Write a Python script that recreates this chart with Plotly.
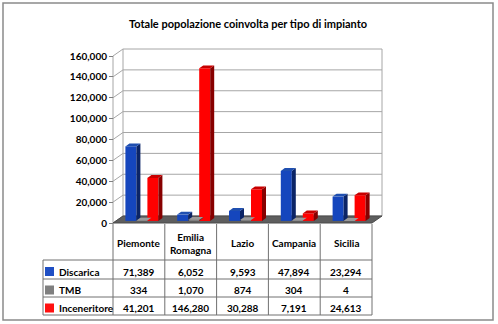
import plotly.graph_objects as go

# ---- data -------------------------------------------------------------
regions = ["Piemonte", "Emilia Romagna", "Lazio", "Campania", "Sicilia"]
header_labels = ["Piemonte", "Emilia<br>Romagna", "Lazio", "Campania", "Sicilia"]
series_names = ["Discarica", "TMB", "Inceneritore"]
discarica = [71389, 6052, 9593, 47894, 23294]
tmb = [334, 1070, 874, 304, 4]
inceneritore = [41201, 146280, 30288, 7191, 24613]
y_ticks = [0, 20000, 40000, 60000, 80000, 100000, 120000, 140000, 160000]
title_text = "Totale popolazione coinvolta per tipo di impianto"

series_values = [discarica, tmb, inceneritore]
front_colors = ["#1546bd", "#7f7f7f", "#ff0000"]
side_colors = ["#0b2466", "#474747", "#870000"]
top_colors = ["#1f4fb0", "#9a9a9a", "#c80000"]
key_colors = ["#1f4fc4", "#7f7f7f", "#ff1010"]

# ---- geometry (pixel layout of the page) -----------------------------
W, H = 498, 324
X0_PX = 113.0          # left edge of the front plane
PX_PER_X = 51.8        # one category slot
Y0_PX = 223.0          # zero line on the front plane
PX_PER_Y = 167.0 / 160000

def xu(px):            # pixel column -> x data units
    return (px - X0_PX) / PX_PER_X - 0.5

def yu(px):            # pixel row -> y data units
    return (Y0_PX - px) / PX_PER_Y

def xp(px):
    return px / W

def yp(px):
    return 1 - px / H

# full depth of the 3-D box, and the bars' place in it
DX, DY = 10 / PX_PER_X, 7 / PX_PER_Y
BAR_DEPTH0 = 0.3
BAR_DEPTH = 0.4
BW = 11 / PX_PER_X
bx, by = BAR_DEPTH0 * DX, BAR_DEPTH0 * DY
sdx, sdy = BAR_DEPTH * DX, BAR_DEPTH * DY

idx = list(range(len(regions)))
n_cat = len(regions)

fig = go.Figure()

# front faces of the columns
for s, (name, vals) in enumerate(zip(series_names, series_values)):
    off = (s - 1.5) * BW
    fig.add_trace(go.Bar(
        x=[i + bx for i in idx], y=vals, base=by, width=BW, offset=off,
        name=name, marker=dict(color=front_colors[s], line=dict(width=0)),
        showlegend=False, hoverinfo="skip"))

# side and top faces of the columns
for s, vals in enumerate(series_values):
    off = (s - 1.5) * BW
    sx, sy, tx, ty = [], [], [], []
    for i, v in zip(idx, vals):
        x0 = i + bx + off
        x1 = x0 + BW
        top = by + v
        sx += [x1, x1 + sdx, x1 + sdx, x1, x1, None]
        sy += [by, by + sdy, top + sdy, top, by, None]
        tx += [x0, x1, x1 + sdx, x0 + sdx, x0, None]
        ty += [top, top, top + sdy, top + sdy, top, None]
    fig.add_trace(go.Scatter(x=sx, y=sy, fill="toself", mode="lines",
                             line=dict(width=0), fillcolor=side_colors[s],
                             showlegend=False, hoverinfo="skip"))
    fig.add_trace(go.Scatter(x=tx, y=ty, fill="toself", mode="lines",
                             line=dict(width=0), fillcolor=top_colors[s],
                             showlegend=False, hoverinfo="skip"))

shapes = []
GRID = "#a6a6a6"
xl, xr = -0.5, n_cat - 0.5
ymax = y_ticks[-1]

# back wall grid, side wall diagonals
for v in y_ticks:
    shapes.append(dict(type="line", xref="x", yref="y", layer="below",
                       x0=xl + DX, x1=xr + DX, y0=v + DY, y1=v + DY,
                       line=dict(color=GRID, width=1)))
    shapes.append(dict(type="line", xref="x", yref="y", layer="below",
                       x0=xl, x1=xl + DX, y0=v, y1=v + DY,
                       line=dict(color=GRID, width=1)))
for xx, y0 in [(xl, 0), (xl + DX, DY), (xr + DX, DY)]:
    shapes.append(dict(type="line", xref="x", yref="y", layer="below",
                       x0=xx, x1=xx, y0=y0, y1=ymax + (DY if y0 else 0),
                       line=dict(color=GRID, width=1)))

# floor
shapes.append(dict(type="path", xref="x", yref="y", layer="below",
                   path=f"M{xl},0 L{xr},0 L{xr + DX},{DY} L{xl + DX},{DY} Z",
                   fillcolor="#5e5e5e", line=dict(color="#4a4a4a", width=1)))

# data table grid
TBL = "#707070"
row_px = [260, 279, 297, 315]
key_left_px = 43
for i in range(n_cat + 1):
    shapes.append(dict(type="line", xref="x", yref="paper",
                       x0=i - 0.5, x1=i - 0.5, y0=yp(Y0_PX + 1), y1=yp(row_px[-1]),
                       line=dict(color=TBL, width=1)))
shapes.append(dict(type="line", xref="paper", yref="paper",
                   x0=xp(key_left_px), x1=xp(key_left_px),
                   y0=yp(row_px[0]), y1=yp(row_px[-1]),
                   line=dict(color=TBL, width=1)))
for r in row_px:
    shapes.append(dict(type="line", xref="paper", yref="paper",
                       x0=xp(key_left_px), x1=xp(X0_PX + n_cat * PX_PER_X),
                       y0=yp(r), y1=yp(r), line=dict(color=TBL, width=1)))

# legend keys in the table
row_mid = [(row_px[k] + row_px[k + 1]) / 2 + 2 for k in range(3)]
for s in range(3):
    shapes.append(dict(type="rect", xref="paper", yref="paper",
                       x0=xp(45), x1=xp(54),
                       y0=yp(row_mid[s] + 4.5), y1=yp(row_mid[s] - 4.5),
                       fillcolor=key_colors[s], line=dict(width=0)))

# chart border
shapes.append(dict(type="rect", xref="paper", yref="paper",
                   x0=xp(3), x1=xp(493), y0=yp(320), y1=yp(3),
                   line=dict(color="#8a8a8a", width=1.5)))

annotations = []
FONT = "Lato"
TABLE_SIZE = 10
for i, lab in enumerate(header_labels):
    annotations.append(dict(xref="x", yref="paper", x=i, y=yp(243),
                            text=lab, showarrow=False, xanchor="center",
                            yanchor="middle",
                            font=dict(family=FONT, size=TABLE_SIZE, color="black",
                                      weight="bold")))
for s, (name, vals) in enumerate(zip(series_names, series_values)):
    annotations.append(dict(xref="paper", yref="paper", x=xp(56.5),
                            y=yp(row_mid[s]), text=name, showarrow=False,
                            xanchor="left", yanchor="middle",
                            font=dict(family=FONT, size=TABLE_SIZE, color="black",
                                      weight="bold")))
    for i, v in zip(idx, vals):
        annotations.append(dict(xref="x", yref="paper", x=i, y=yp(row_mid[s]),
                                text=f"{v:,}", showarrow=False,
                                xanchor="center", yanchor="middle",
                                font=dict(family=FONT, size=TABLE_SIZE, color="black",
                                          weight="bold")))

fig.update_layout(
    width=W, height=H, autosize=False,
    margin=dict(l=0, r=0, t=0, b=0, pad=0),
    paper_bgcolor="white", plot_bgcolor="white",
    barmode="overlay",
    title=dict(text=title_text, x=xp(248), y=yp(24), xanchor="center",
               yanchor="middle",
               font=dict(family=FONT, size=11, color="black", weight="bold")),
    xaxis=dict(visible=False, range=[xu(0), xu(W)], domain=[0, 1],
               fixedrange=True),
    yaxis=dict(range=[yu(H), yu(0)], domain=[0, 1], anchor="free",
               position=xp(X0_PX), showgrid=False, zeroline=False,
               showline=False, tickvals=y_ticks,
               ticktext=[f"{t:,}" for t in y_ticks],
               ticks="outside", ticklen=4, tickcolor="#808080",
               tickfont=dict(family=FONT, size=10, color="black",
                             weight="bold"),
               fixedrange=True),
    shapes=shapes,
    annotations=annotations,
    showlegend=False,
)

fig.write_html("out.html")
